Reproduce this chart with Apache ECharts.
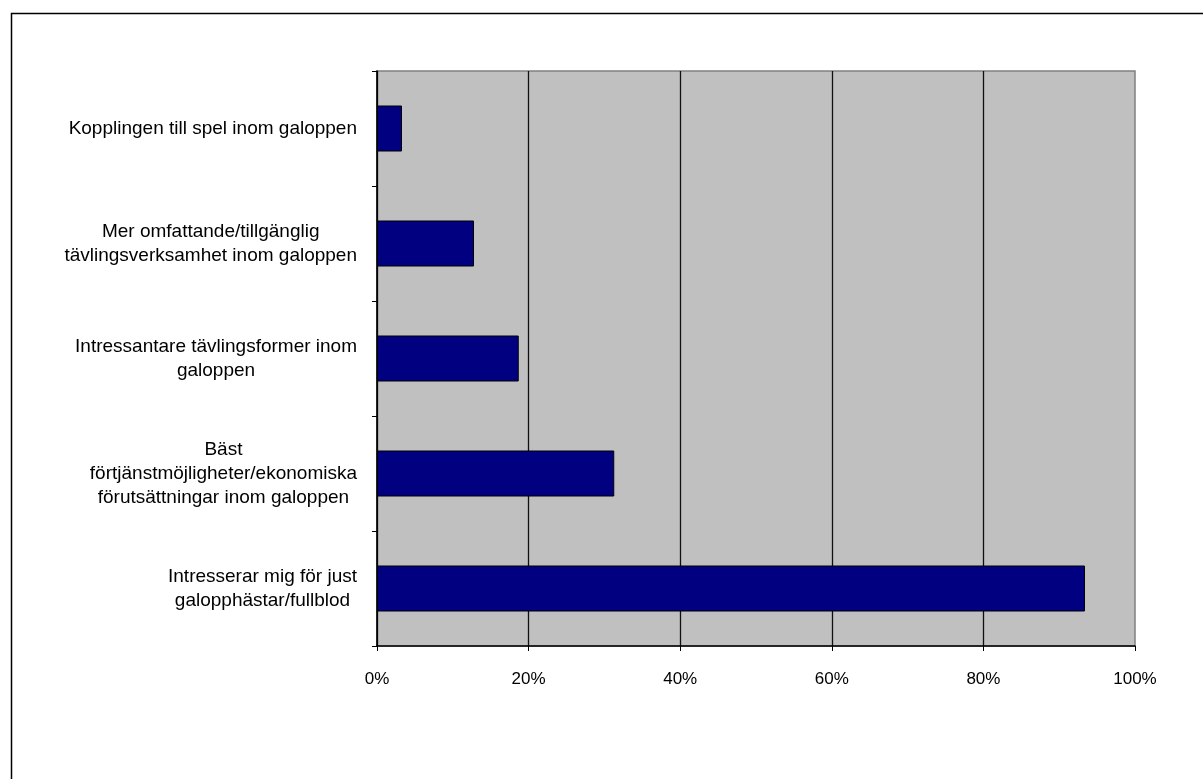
<!DOCTYPE html>
<html>
<head>
<meta charset="utf-8">
<script src="https://cdn.jsdelivr.net/npm/echarts@6/dist/echarts.min.js"></script>
<style>
  html, body { margin: 0; padding: 0; background: #fff; }
  #myChart { width: 1203px; height: 779px; }
</style>
</head>
<body>
<div id="myChart"></div>
<script>
// kategorier (uppifrån och ner)
const categories = [
  'Kopplingen till spel inom galoppen',
  'Mer omfattande/tillgänglig\ntävlingsverksamhet inom galoppen',
  'Intressantare tävlingsformer inom\ngaloppen',
  'Bäst\nförtjänstmöjligheter/ekonomiska\nförutsättningar inom galoppen',
  'Intresserar mig för just\ngalopphästar/fullblod'
]
// andel i procent
const values = [3.3, 12.8, 18.7, 31.3, 93.4]
const xTicks = [0, 20, 40, 60, 80, 100]

const myChart = echarts.init(document.getElementById('myChart'))
myChart.setOption({
  animation: false,
  textStyle: { fontFamily: 'Liberation Sans, Arial, sans-serif' },
  graphic: [{
    type: 'rect',
    left: 9,
    top: 11,
    shape: { width: 1400, height: 900 },
    style: { fill: 'none', stroke: '#000', lineWidth: 1.5 },
    silent: true
  }],
  grid: {
    left: 377,
    top: 71,
    right: 68,
    bottom: 133,
    show: true,
    backgroundColor: '#C0C0C0',
    borderColor: '#808080',
    borderWidth: 1.5
  },
  xAxis: {
    type: 'value',
    min: xTicks[0],
    max: xTicks[xTicks.length - 1],
    interval: 20,
    axisLine: { show: true, lineStyle: { color: '#000', width: 1.5 } },
    axisTick: { show: true, length: 5, lineStyle: { color: '#000' } },
    axisLabel: {
      formatter: '{value}%',
      color: '#000',
      fontSize: 17,
      margin: 25
    },
    splitLine: {
      show: true,
      showMaxLine: false,
      lineStyle: { color: '#111', width: 1.3 }
    }
  },
  yAxis: {
    type: 'category',
    inverse: true,
    data: categories,
    axisLine: { show: true, lineStyle: { color: '#000', width: 1.5 } },
    axisTick: { show: true, length: 5, lineStyle: { color: '#000' } },
    axisLabel: {
      color: '#000',
      fontSize: 19,
      margin: 20,
      lineHeight: 24,
      formatter: function (v) {
        return v.split('\n').map(function (s) { return '{c|' + s + '}' }).join('\n')
      },
      rich: {
        c: { align: 'center', fontSize: 19, lineHeight: 24, color: '#000' }
      }
    },
    splitLine: { show: false }
  },
  series: [{
    type: 'bar',
    data: values,
    barCategoryGap: '60%',
    itemStyle: {
      color: '#000080',
      borderColor: '#000',
      borderWidth: 1
    }
  }]
})
</script>
</body>
</html>
